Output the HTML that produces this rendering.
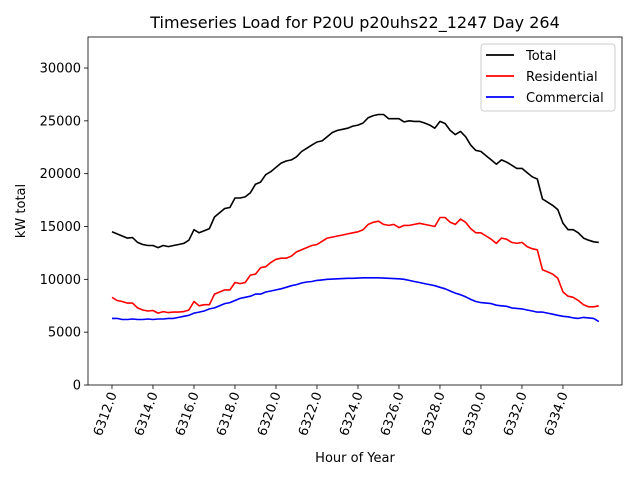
<!DOCTYPE html>
<html><head><meta charset="utf-8"><style>
body{margin:0;background:#fff;font-family:"DejaVu Sans","Liberation Sans",sans-serif}
</style></head><body>
<svg id="chart" width="640" height="480" xmlns="http://www.w3.org/2000/svg" font-family="DejaVu Sans, Liberation Sans, sans-serif"></svg>
<script>
const hourStart = 6312;
const hourStep = 0.25;
const total = [14500,14300,14100,13900,13950,13500,13300,13200,13200,13000,
13200,13100,13200,13300,13400,13700,14700,14400,14600,14800,
15900,16300,16700,16800,17700,17700,17800,18200,19000,19200,
19900,20200,20600,21000,21200,21300,21600,22100,22400,22700,
23000,23100,23500,23900,24100,24200,24300,24500,24600,24800,
25300,25500,25600,25600,25200,25200,25200,24900,25000,24950,
24950,24800,24600,24300,24950,24750,24100,23700,24000,23500,
22700,22200,22100,21700,21300,20900,21300,21100,20800,20500,
20500,20100,19700,19500,17600,17300,17000,16600,15300,14700,
14700,14400,13900,13700,13550,13500];
const residential = [8300,8000,7900,7750,7750,7300,7100,7000,7050,6800,
6950,6850,6900,6900,6950,7100,7900,7500,7600,7600,
8600,8800,9000,9000,9700,9600,9700,10400,10500,11100,
11200,11600,11900,12000,12000,12200,12600,12800,13000,13200,
13300,13600,13900,14000,14100,14200,14300,14400,14500,14700,
15200,15400,15500,15200,15100,15200,14900,15100,15100,15200,
15300,15200,15100,15000,15850,15850,15400,15200,15700,15400,
14800,14400,14400,14100,13800,13400,13900,13800,13500,13400,
13500,13100,12900,12800,10900,10700,10500,10100,8800,8400,
8300,8000,7600,7400,7400,7500];
const commercial = [6300,6300,6200,6200,6250,6200,6200,6250,6200,6250,
6250,6300,6300,6400,6500,6600,6800,6900,7000,7200,
7300,7500,7700,7800,8000,8200,8300,8400,8600,8600,
8800,8900,9000,9100,9250,9400,9500,9650,9750,9800,
9900,9950,10000,10020,10050,10070,10100,10100,10120,10150,
10150,10150,10150,10120,10100,10070,10050,10000,9900,9800,
9700,9600,9500,9400,9250,9100,8900,8700,8550,8350,
8100,7900,7800,7750,7700,7550,7500,7450,7300,7250,
7200,7100,7000,6900,6900,6800,6700,6600,6500,6450,
6350,6300,6400,6350,6300,6000];
const xTicks = [6312,6314,6316,6318,6320,6322,6324,6326,6328,6330,6332,6334];
const yTicks = [0,5000,10000,15000,20000,25000,30000];

const L=88,R=622,T=37,B=385;
const xMin=6310.83,xMax=6336.88,yMin=0,yMax=32935;
const sx=h=>L+(h-xMin)/(xMax-xMin)*(R-L);
const sy=v=>B-(v-yMin)/(yMax-yMin)*(B-T);
const svg=document.getElementById('chart');
const NS='http://www.w3.org/2000/svg';
function mk(tag,attrs,parent){const e=document.createElementNS(NS,tag);for(const k in attrs)e.setAttribute(k,attrs[k]);(parent||svg).appendChild(e);return e;}

const title=mk('text',{x:355,y:28,'text-anchor':'middle','font-size':16,fill:'#000'});


title.textContent='Timeseries Load for P20U p20uhs22_1247  Day 264';

xTicks.forEach(t=>{
  const x=sx(t);
  const tk=mk('line',{x1:x,x2:x,y1:B,y2:B+4,stroke:'#000','stroke-width':0.8});
  
  
  const lb=mk('text',{x:0,y:0,'font-size':13,'text-anchor':'end',transform:`translate(${x+5},${B+9}) rotate(-70)`});
  
  
  lb.textContent=t.toFixed(1);
});
yTicks.forEach(t=>{
  const y=sy(t);
  const tk=mk('line',{x1:L-4,x2:L,y1:y,y2:y,stroke:'#000','stroke-width':0.8});
  
  
  const lb=mk('text',{x:L-7,y:y+4.5,'font-size':13,'text-anchor':'end'});
  
  
  lb.textContent=t;
});

function series(arr,color,name){
  const pts=arr.map((v,i)=>sx(hourStart+i*hourStep).toFixed(1)+','+sy(v).toFixed(1)).join(' ');
  const p=mk('polyline',{points:pts,fill:'none',stroke:color,'stroke-width':1.6,'stroke-linejoin':'round'});
  
  
}
series(total,'#000','total-line');
series(residential,'#ff0000','residential-line');
series(commercial,'#0000ff','commercial-line');

const frame=mk('rect',{x:L,y:T,width:R-L,height:B-T,fill:'none',stroke:'#000','stroke-width':0.8});



const xl=mk('text',{x:355,y:462,'text-anchor':'middle','font-size':13});


xl.textContent='Hour of Year';
const yl=mk('text',{x:0,y:0,'text-anchor':'middle','font-size':13,transform:'translate(25,211) rotate(-90)'});


yl.textContent='kW total';

const lg=mk('g',{});


mk('rect',{x:481,y:44,width:134,height:67,rx:3,fill:'#fff',stroke:'#ccc','stroke-width':1},lg);
[['Total','#000'],['Residential','#ff0000'],['Commercial','#0000ff']].forEach((e,i)=>{
  const y=55+i*21;
  const g=mk('g',{},lg);
  
  
  mk('line',{x1:486,x2:514,y1:y,y2:y,stroke:e[1],'stroke-width':1.8},g);
  const t=mk('text',{x:526,y:y+5,'font-size':13},g);
  t.textContent=e[0];
});
</script>
</body></html>
